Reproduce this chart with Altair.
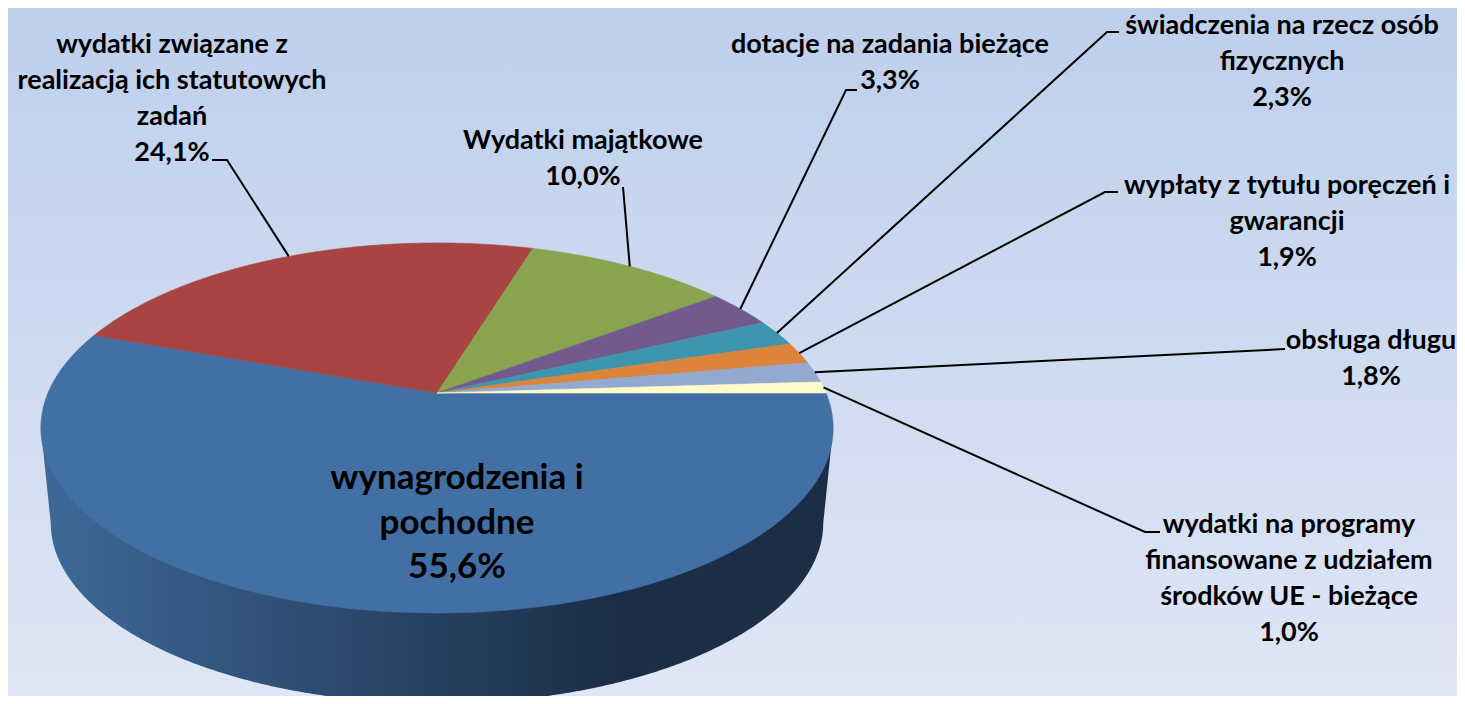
import math
import altair as alt
import pandas as pd

# ---- values
names = ["wynagrodzenia i pochodne", "wydatki związane z realizacją ich statutowych zadań",
         "Wydatki majątkowe", "dotacje na zadania bieżące", "świadczenia na rzecz osób fizycznych",
         "wypłaty z tytułu poręczeń i gwarancji", "obsługa długu",
         "wydatki na programy finansowane z udziałem środków UE - bieżące"]
shares = [55.6, 24.1, 10.0, 3.3, 2.3, 1.9, 1.8, 1.0]
colors = ["#4270A5", "#A84543", "#88A44F", "#735A8E", "#3E96AE", "#DC843B", "#93A9CF", "#FEFBCB"]
label_text = ["wynagrodzenia i\npochodne\n55,6%",
              "wydatki związane z\nrealizacją ich statutowych\nzadań\n24,1%",
              "Wydatki majątkowe\n10,0%",
              "dotacje na zadania bieżące\n3,3%",
              "świadczenia na rzecz osób\nfizycznych\n2,3%",
              "wypłaty z tytułu poręczeń i\ngwarancji\n1,9%",
              "obsługa długu\n1,8%",
              "wydatki na programy\nfinansowane z udziałem\nśrodków UE - bieżące\n1,0%"]

# ---- layout (page pixels of the reference)
W, H = 1449, 688
MARGIN = 8
CX, CY, RX, RY, K = 437.0, 393.0, 389.0, 178.4, 0.189
WALL_DY, WALL_F = 96.0, 0.975
label_xy = [(457, 478), (172, 45), (583, 141), (890, 45), (1282, 26), (1287, 186), (1371, 341), (1289, 525)]
elbows = [None, [(227, 160), (212, 160)], [(623, 187)], [(846, 90), (857, 90)],
          [(1107, 32), (1119, 32)], [(1105, 192), (1118, 192)], [(1285, 349)], [(1145, 532), (1160, 532)]]


def project(theta, f=1.0, dy=0.0):
    """Point on the perspective rim; theta in degrees, clockwise from the right."""
    t = math.radians(theta)
    s = f / (1 - K * math.sin(t))
    return [CX + RX * math.cos(t) * s, CY + dy + RY * math.sin(t) * s]


def arc(a0, a1, f=1.0, dy=0.0):
    n = max(2, int(abs(a1 - a0) * 2))
    return [project(a0 + (a1 - a0) * i / n, f, dy) for i in range(n + 1)]


def feature(coords, name, kind="Polygon"):
    return {"type": "Feature", "properties": {"name": name},
            "geometry": {"type": kind, "coordinates": [coords] if kind == "Polygon" else coords}}


slices, lines = [], []
start = 0.0
for name, share, elbow in zip(names, shares, elbows):
    a0, a1 = start * 3.6, (start + share) * 3.6
    ring = [[CX, CY]] + arc(a0, a1) + [[CX, CY]]
    slices.append(feature(ring, name))
    if elbow:
        lines.append(feature([project((a0 + a1) / 2)] + [list(p) for p in elbow], name, "LineString"))
    start += share

edge = math.degrees(math.asin(K))
wall_ring = [project(edge)] + arc(edge, 180 - edge, WALL_F, WALL_DY) + [project(180 - edge)]
wall_ring.append(wall_ring[0])

projection = dict(type="identity", scale=1, translate=[-MARGIN, -MARGIN])


def geo(features):
    return alt.Data(values=features)


backdrop = alt.Chart(pd.DataFrame({"a": [0]})).mark_rect(
    fill=alt.LinearGradient(gradient="linear", x1=0, x2=0, y1=0, y2=1,
                            stops=[alt.GradientStop(offset=0, color="#BECFEC"),
                                   alt.GradientStop(offset=1, color="#DFE6F5")])
).encode(x=alt.value(0), x2=alt.value(W), y=alt.value(0), y2=alt.value(H))

wall = alt.Chart(geo([feature(wall_ring, "wall")])).mark_geoshape(
    filled=True,
    fill=alt.LinearGradient(gradient="linear", x1=0, x2=1, y1=0, y2=0,
                            stops=[alt.GradientStop(offset=0, color="#3E6997"),
                                   alt.GradientStop(offset=0.33, color="#2E4D73"),
                                   alt.GradientStop(offset=0.58, color="#223A58"),
                                   alt.GradientStop(offset=0.72, color="#1B2E46"),
                                   alt.GradientStop(offset=1, color="#1B2E46")])
).project(**projection)

color_scale = alt.Scale(domain=names, range=colors)
pie = alt.Chart(geo(slices)).mark_geoshape(filled=True, strokeWidth=0.6).encode(
    fill=alt.Fill("properties.name:N", scale=color_scale, legend=None),
    stroke=alt.Stroke("properties.name:N", scale=color_scale, legend=None),
).project(**projection)

leaders = alt.Chart(geo(lines)).mark_geoshape(filled=False, stroke="#000000", strokeWidth=2).project(**projection)

labels = pd.DataFrame({
    "text": label_text,
    "x": [p[0] - MARGIN for p in label_xy],
    "y": [p[1] - MARGIN for p in label_xy],
})


def text_layer(frame, size, line_height):
    return alt.Chart(frame).mark_text(
        font="Lato", fontWeight="bold", fontSize=size, lineBreak="\n", lineHeight=line_height,
        align="center", baseline="middle", color="#000000",
    ).encode(x=alt.X("x:Q", scale=None, axis=None), y=alt.Y("y:Q", scale=None, axis=None), text="text:N")


chart = alt.layer(
    backdrop, wall, pie, leaders,
    text_layer(labels.iloc[1:], 27, 36),
    text_layer(labels.iloc[:1], 35, 44.5),
).properties(
    width=W, height=H, padding=0, background="#CFDBF0",
    autosize=alt.AutoSizeParams(type="none"),
).configure_view(stroke=None)

chart.save("out.html", embed_options={"renderer": "svg", "actions": False})
